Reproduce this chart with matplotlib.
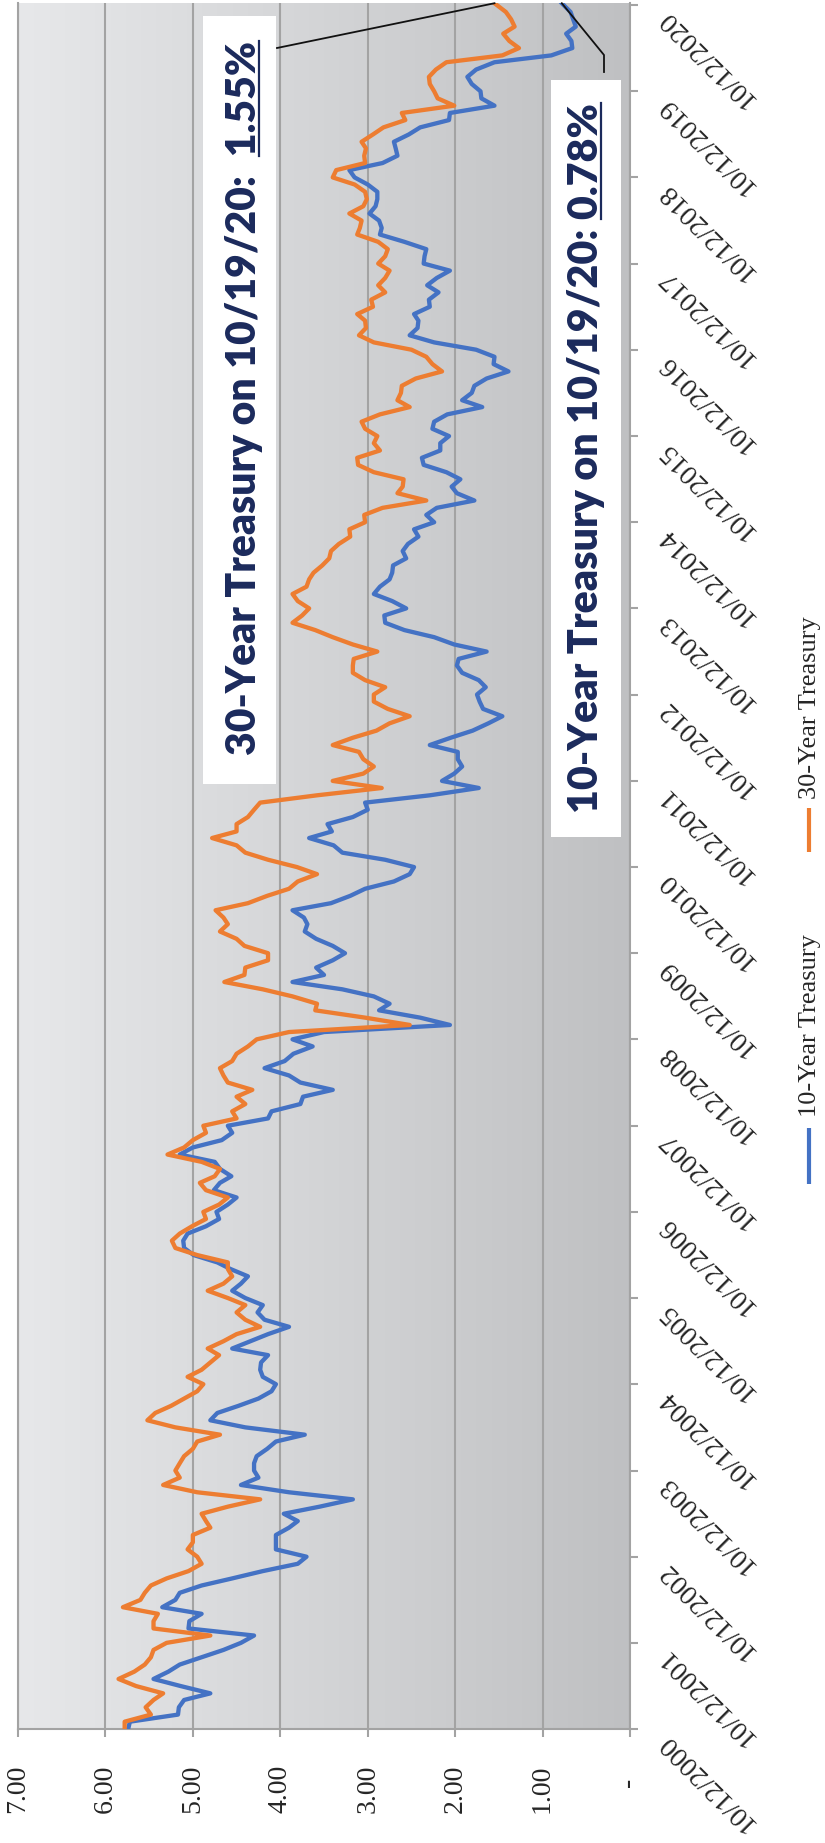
import numpy as np
import pandas as pd
import matplotlib
matplotlib.use("Agg")
import matplotlib.pyplot as plt
import matplotlib.dates as mdates
from matplotlib.colors import LinearSegmentedColormap
from matplotlib.lines import Line2D
from matplotlib.patches import Rectangle

# ---------------- data (monthly readings, Oct 2000 .. Oct 2020) ----------------
start_date = "2000-10-12"
end_date = "2020-10-19"

ten_year = [
    5.74, 5.72, 5.17,
    5.16, 5.10, 4.80, 5.14, 5.45, 5.28, 5.15, 4.90, 4.65, 4.45, 4.30, 5.05,
    5.04, 4.90, 5.35, 5.20, 5.15, 4.90, 4.55, 4.20, 3.80, 3.70, 4.05, 4.05,
    4.05, 3.90, 3.80, 3.96, 3.55, 3.17, 3.90, 4.45, 4.25, 4.30, 4.30, 4.27,
    4.15, 4.05, 3.72, 4.40, 4.80, 4.72, 4.48, 4.25, 4.10, 4.05, 4.20, 4.23,
    4.22, 4.14, 4.55, 4.34, 4.14, 3.90, 4.18, 4.26, 4.20, 4.40, 4.55, 4.45,
    4.37, 4.57, 4.72, 4.99, 5.10, 5.11, 5.06, 4.85, 4.70, 4.73, 4.60, 4.50,
    4.76, 4.69, 4.56, 4.69, 4.75, 5.15, 5.00, 4.67, 4.55, 4.60, 4.14, 4.10,
    3.77, 3.74, 3.40, 3.77, 3.90, 4.18, 3.95, 3.85, 3.63, 3.86, 3.50, 2.06,
    2.40, 2.87, 2.75, 2.93, 3.29, 3.86, 3.50, 3.59, 3.40, 3.26, 3.40, 3.59,
    3.72, 3.69, 3.73, 3.86, 3.42, 3.20, 3.03, 2.70, 2.52, 2.47, 2.80, 3.29,
    3.39, 3.67, 3.41, 3.46, 3.17, 3.00, 3.03, 2.29, 1.73, 2.15, 2.01, 1.92,
    1.97, 1.97, 2.29, 2.05, 1.80, 1.62, 1.46, 1.68, 1.72, 1.75, 1.65, 1.73,
    1.92, 1.98, 1.96, 1.64, 2.01, 2.24, 2.58, 2.80, 2.81, 2.56, 2.72, 2.93,
    2.86, 2.75, 2.72, 2.71, 2.56, 2.60, 2.54, 2.42, 2.47, 2.24, 2.33, 2.21,
    1.78, 1.98, 2.04, 1.94, 2.10, 2.36, 2.38, 2.17, 2.17, 2.07, 2.26, 2.24,
    2.09, 1.69, 1.92, 1.81, 1.78, 1.64, 1.39, 1.56, 1.55, 1.76, 2.24, 2.52,
    2.43, 2.42, 2.47, 2.29, 2.30, 2.19, 2.32, 2.21, 2.06, 2.36, 2.35, 2.33,
    2.58, 2.86, 2.84, 2.87, 2.98, 2.91, 2.89, 2.89, 3.00, 3.15, 3.21, 2.83,
    2.66, 2.68, 2.70, 2.53, 2.40, 2.07, 2.06, 1.55, 1.70, 1.71, 1.81, 1.86,
    1.76, 1.55, 0.90, 0.66, 0.67, 0.73, 0.62, 0.65, 0.68, 0.78,
]

thirty_year = [
    5.78, 5.78, 5.48,
    5.54, 5.45, 5.34, 5.65, 5.85, 5.67, 5.55, 5.48, 5.45, 5.30, 4.80, 5.45,
    5.45, 5.40, 5.80, 5.60, 5.55, 5.48, 5.30, 5.05, 4.90, 4.95, 5.06, 5.00,
    5.00, 4.80, 4.85, 4.90, 4.60, 4.23, 4.95, 5.34, 5.15, 5.20, 5.15, 5.10,
    5.00, 4.95, 4.69, 5.20, 5.52, 5.43, 5.25, 5.10, 4.95, 4.88, 5.06, 4.90,
    4.80, 4.70, 4.83, 4.65, 4.50, 4.23, 4.40, 4.50, 4.40, 4.60, 4.83, 4.65,
    4.55, 4.60, 4.60, 4.95, 5.20, 5.24, 5.15, 5.01, 4.85, 4.88, 4.70, 4.60,
    4.85, 4.92, 4.75, 4.69, 4.90, 5.29, 5.10, 5.00, 4.85, 4.88, 4.50, 4.55,
    4.40, 4.50, 4.32, 4.60, 4.65, 4.69, 4.55, 4.50, 4.37, 4.27, 3.90, 2.52,
    3.03, 3.60, 3.58, 3.86, 4.20, 4.64, 4.41, 4.40, 4.14, 4.14, 4.41, 4.50,
    4.69, 4.60, 4.65, 4.74, 4.37, 4.15, 3.90, 3.80, 3.58, 3.81, 4.14, 4.40,
    4.50, 4.78, 4.50, 4.50, 4.37, 4.30, 4.23, 3.58, 2.84, 3.40, 3.05, 2.93,
    3.05, 3.10, 3.40, 3.17, 2.90, 2.75, 2.52, 2.77, 2.93, 2.93, 2.80, 3.03,
    3.17, 3.17, 3.16, 2.89, 3.17, 3.40, 3.60, 3.86, 3.75, 3.67, 3.80, 3.86,
    3.70, 3.67, 3.62, 3.52, 3.44, 3.42, 3.33, 3.20, 3.21, 3.03, 3.04, 2.83,
    2.33, 2.66, 2.60, 2.59, 2.93, 3.11, 3.12, 2.86, 2.93, 2.89, 3.03, 3.07,
    2.86, 2.52, 2.66, 2.62, 2.61, 2.45, 2.15, 2.26, 2.33, 2.50, 2.93, 3.10,
    3.02, 3.03, 3.12, 2.94, 2.96, 2.80, 2.88, 2.80, 2.75, 2.88, 2.80, 2.77,
    2.88, 3.12, 3.09, 3.07, 3.21, 3.05, 3.01, 3.03, 3.15, 3.40, 3.36, 3.03,
    3.04, 3.02, 3.07, 2.94, 2.82, 2.57, 2.61, 2.01, 2.20, 2.24, 2.29, 2.30,
    2.22, 2.10, 1.46, 1.27, 1.38, 1.45, 1.32, 1.36, 1.42, 1.55,
]

value_ticks = [7, 6, 5, 4, 3, 2, 1, 0]
value_labels = ["7.00", "6.00", "5.00", "4.00", "3.00", "2.00", "1.00", "-  "]
tick_years = list(range(2000, 2021))
date_labels = [f"10/12/{y}" for y in tick_years]
series_names = ["10-Year Treasury", "30-Year Treasury"]
ann_prefix = ["30-Year Treasury on 10/19/20:  ", "10-Year Treasury on 10/19/20: "]
ann_value = ["1.55%", "0.78%"]

# ---------------- figure ----------------
W, H, DPI = 825, 1843, 100
fig = plt.figure(figsize=(W / DPI, H / DPI), dpi=DPI)
fig.patch.set_facecolor("white")


def fx(px):
    return px / W


def fy(py):
    return 1 - py / H


SERIF = ["Liberation Serif", "DejaVu Serif"]
TXT = "#262626"
GRID = "#a3a3a3"
BLUE = "#4472C4"
ORANGE = "#ED7D31"
ANN = "#1b2a5c"

PL, PR, PT, PB = 18, 630, 3, 1729
ax = fig.add_axes([fx(PL), fy(PB), (PR - PL) / W, (PB - PT) / H])

dates = pd.date_range(start_date, periods=len(ten_year), freq=pd.DateOffset(months=1))
dates = list(dates[:-1]) + [pd.Timestamp(end_date)]
ynum = mdates.date2num(dates)

bg = LinearSegmentedColormap.from_list("bg", ["#e7e8ea", "#bfc0c2"])
ax.imshow(np.linspace(0, 1, 256).reshape(1, -1), cmap=bg, aspect="auto",
          extent=[0, 1, 0, 1], transform=ax.transAxes, zorder=0,
          interpolation="bilinear")

ax.plot(ten_year, ynum, color=BLUE, lw=3.1, solid_joinstyle="round", zorder=3)
ax.plot(thirty_year, ynum, color=ORANGE, lw=3.1, solid_joinstyle="round", zorder=4)

ax.set_xlim(7, 0)
ax.set_ylim(mdates.date2num(pd.Timestamp(start_date)),
            mdates.date2num(pd.Timestamp("2020-10-20")))

ax.set_xticks(value_ticks)
ax.set_xticklabels(value_labels, rotation=90, fontsize=20, family=SERIF, color=TXT)
ax.xaxis.grid(True, color=GRID, lw=1.5)
ax.yaxis.grid(False)
ax.set_axisbelow(True)
ax.tick_params(axis="x", direction="out", length=6, width=1.5, color=GRID, pad=20)

ax.yaxis.tick_right()
ax.set_yticks(mdates.date2num([pd.Timestamp(f"{y}-10-12") for y in tick_years]))
ax.set_yticklabels(date_labels, rotation=135, ha="right", va="bottom",
                   rotation_mode="anchor", fontsize=20, family=SERIF, color=TXT)
ax.tick_params(axis="y", direction="out", length=6, width=1.5, color=GRID, pad=23)
for s in ["left", "right", "bottom"]:
    ax.spines[s].set_color(GRID)
    ax.spines[s].set_linewidth(1.5)
ax.spines["top"].set_visible(False)

# ---------------- annotations ----------------
fig.canvas.draw()
r = fig.canvas.get_renderer()
ann_font = dict(family=["Lato", "DejaVu Sans"], weight="heavy", color=ANN)
ann_boxes = [(203, 16, 276, 784), (551, 80, 621, 837)]
ann_baseline = [256, 598]
ann_span = [(755, 41), (813, 103)]
for i in range(2):
    x0, y0, x1, y1 = ann_boxes[i]
    fig.add_artist(Rectangle((fx(x0), fy(y1)), (x1 - x0) / W, (y1 - y0) / H,
                             transform=fig.transFigure, facecolor="white",
                             edgecolor="none", zorder=5))
    ys, ye = ann_span[i]
    full = ann_prefix[i] + ann_value[i]
    t = fig.text(fx(ann_baseline[i]), fy(ys), full, rotation=90,
                 rotation_mode="anchor", ha="left", va="baseline",
                 fontsize=30, zorder=6, **ann_font)
    L = t.get_window_extent(r).height
    fs = 30 * (ys - ye) / L
    t.set_fontsize(fs)
    tmp = fig.text(0, 0, ann_value[i], rotation=90, fontsize=fs, **ann_font)
    Ls = tmp.get_window_extent(r).height
    tmp.remove()
    fig.add_artist(Line2D([fx(ann_baseline[i] + 3)] * 2,
                          [fy(ye), fy(ye) - Ls / H], color=ANN, lw=1.6,
                          transform=fig.transFigure, zorder=7))

fig.canvas.draw()


def data_fig(v, d):
    X, Y = ax.transData.transform((v, d))
    return X / W, Y / H


p30 = data_fig(thirty_year[-1], ynum[-1])
p10 = data_fig(ten_year[-1], ynum[-1])
fig.add_artist(Line2D([fx(277), p30[0]], [fy(48), p30[1]], color="#111111",
                      lw=1.3, transform=fig.transFigure, zorder=8))
fig.add_artist(Line2D([p10[0], fx(604), fx(604)], [p10[1], fy(55), fy(72)],
                      color="#111111", lw=1.3, transform=fig.transFigure, zorder=8))

# ---------------- legend ----------------
legend_items = [(series_names[0], BLUE, 1184, 1128, 1117),
                (series_names[1], ORANGE, 852, 808, 799)]
for name, col, l0, l1, ty in legend_items:
    fig.add_artist(Line2D([fx(809)] * 2, [fy(l0), fy(l1)], color=col, lw=3,
                          transform=fig.transFigure, solid_capstyle="butt"))
    fig.text(fx(810), fy(ty), name, rotation=90, ha="center", va="bottom",
             fontsize=19, family=SERIF, color=TXT)

fig.savefig("out.png", dpi=DPI)
